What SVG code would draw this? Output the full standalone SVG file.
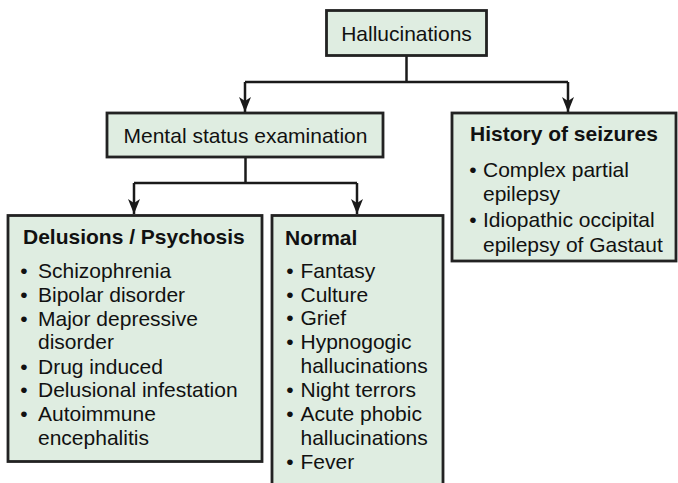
<svg xmlns="http://www.w3.org/2000/svg" width="678" height="483" viewBox="0 0 678 483">
<style>
.box{fill:#dfede1;stroke:#222;stroke-width:2.8}
.t{font-family:"Liberation Sans",Arial,sans-serif;font-size:21px;fill:#111}
.b{font-weight:bold}
.m{text-anchor:middle}
.c{fill:none;stroke:#1a1a1a;stroke-width:2.5}
</style>
<defs>
<marker id="ah" markerUnits="userSpaceOnUse" viewBox="0 0 15 12" refX="15" refY="6" markerWidth="15" markerHeight="12" orient="auto">
<path d="M0,0 L15,6 L0,12 L4,6 z" fill="#1a1a1a"/>
</marker>
</defs>
<rect width="678" height="483" fill="#fff"/>
<g id="connectors">
<path class="c" d="M406.5,55 V82"/>
<path class="c" d="M245,82 H568"/>
<path class="c" d="M245,82 V112" marker-end="url(#ah)"/>
<path class="c" d="M568,82 V112" marker-end="url(#ah)"/>
<path class="c" d="M245.5,157 V183"/>
<path class="c" d="M134,183 H357"/>
<path class="c" d="M134,183 V214" marker-end="url(#ah)"/>
<path class="c" d="M357,183 V214" marker-end="url(#ah)"/>
</g>
<g id="hallucinations">
<rect class="box" x="326.5" y="10.5" width="160" height="45"/>
<text class="t m" x="406.5" y="41">Hallucinations</text>
</g>
<g id="mental-status">
<rect class="box" x="107" y="113" width="276" height="44"/>
<text class="t m" x="245.5" y="143">Mental status examination</text>
</g>
<g id="history-seizures">
<rect class="box" x="452" y="113" width="224" height="148"/>
<text class="t b" x="470" y="141">History of seizures</text>
<text class="t m" x="473" y="177">•</text><text class="t" x="483" y="177">Complex partial</text>
<text class="t" x="483" y="201">epilepsy</text>
<text class="t m" x="473" y="227">•</text><text class="t" x="483" y="227">Idiopathic occipital</text>
<text class="t" x="483" y="252">epilepsy of Gastaut</text>
</g>
<g id="delusions-psychosis">
<rect class="box" x="8" y="215.5" width="254" height="246"/>
<text class="t b" x="23" y="244">Delusions / Psychosis</text>
<text class="t m" x="24" y="278">•</text><text class="t" x="38" y="278">Schizophrenia</text>
<text class="t m" x="24" y="302">•</text><text class="t" x="38" y="302">Bipolar disorder</text>
<text class="t m" x="24" y="326">•</text><text class="t" x="38" y="326">Major depressive</text>
<text class="t" x="38" y="349">disorder</text>
<text class="t m" x="24" y="374">•</text><text class="t" x="38" y="374">Drug induced</text>
<text class="t m" x="24" y="397">•</text><text class="t" x="38" y="397">Delusional infestation</text>
<text class="t m" x="24" y="421">•</text><text class="t" x="38" y="421">Autoimmune</text>
<text class="t" x="38" y="445">encephalitis</text>
</g>
<g id="normal">
<rect class="box" x="272" y="215.5" width="171" height="280"/>
<text class="t b" x="285" y="245">Normal</text>
<text class="t m" x="290" y="278">•</text><text class="t" x="300.5" y="278">Fantasy</text>
<text class="t m" x="290" y="302">•</text><text class="t" x="300.5" y="302">Culture</text>
<text class="t m" x="290" y="325">•</text><text class="t" x="300.5" y="325">Grief</text>
<text class="t m" x="290" y="349">•</text><text class="t" x="300.5" y="349">Hypnogogic</text>
<text class="t" x="300.5" y="373">hallucinations</text>
<text class="t m" x="290" y="397">•</text><text class="t" x="300.5" y="397">Night terrors</text>
<text class="t m" x="290" y="421">•</text><text class="t" x="300.5" y="421">Acute phobic</text>
<text class="t" x="300.5" y="445">hallucinations</text>
<text class="t m" x="290" y="469">•</text><text class="t" x="300.5" y="469">Fever</text>
</g>
</svg>
